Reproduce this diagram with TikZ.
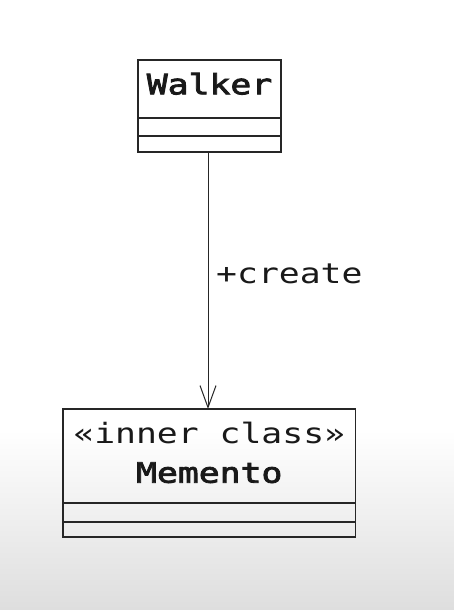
\documentclass[tikz,border=0pt]{standalone}
\usepackage{fontspec}
\usetikzlibrary{arrows.meta}
\newfontfamily\umono[FakeStretch=1.24]{DejaVu Sans Mono}
\newfontfamily\umonob[FakeStretch=1.24,FakeBold=3]{DejaVu Sans Mono}
\tikzset{
  umlbox/.style={draw=black!85, line width=1.3pt, rectangle, inner sep=0pt},
  umltext/.style={anchor=base, inner sep=0pt, font=\umono\fontsize{28}{30}\selectfont, text=black!90},
  umlname/.style={umltext, font=\umonob\fontsize{28}{30}\selectfont},
  assoc/.style={draw=black!85, line width=1pt, -{Straight Barb[length=22pt,width=16pt,line width=1pt]}},
}
\begin{document}
\begin{tikzpicture}[x=1pt,y=1pt]
\useasboundingbox (0,0) rectangle (454,610);
\fill[white] (0,0) rectangle (454,610);
\shade[top color=white, bottom color=black!13] (0,0) rectangle (454,180);
% Walker
\node[umlbox, minimum width=143pt, minimum height=92pt] (walker) at (209.5,504) {};
\draw[black!85, line width=1.3pt] (138,492) -- (281,492);
\draw[black!85, line width=1.3pt] (138,474) -- (281,474);
\node[umlname] (wname) at (209.5,515.7) {Walker};
% Memento
\node[umlbox, minimum width=292.5pt, minimum height=128pt] (memento) at (209.25,137) {};
\draw[black!85, line width=1.3pt] (63,107) -- (355.5,107);
\draw[black!85, line width=1.3pt] (63,88) -- (355.5,88);
\node[umltext] (stereo) at (209.25,166.7) {«inner class»};
\node[umlname] (mname) at (209.25,127.3) {Memento};
% association
\coordinate (start) at (208,458);
\coordinate (stop) at (208,201);
\draw[assoc] (start) -- (stop);
\node[umltext, anchor=base west] (lbl) at (216,326) {+create};
\end{tikzpicture}
\end{document}
